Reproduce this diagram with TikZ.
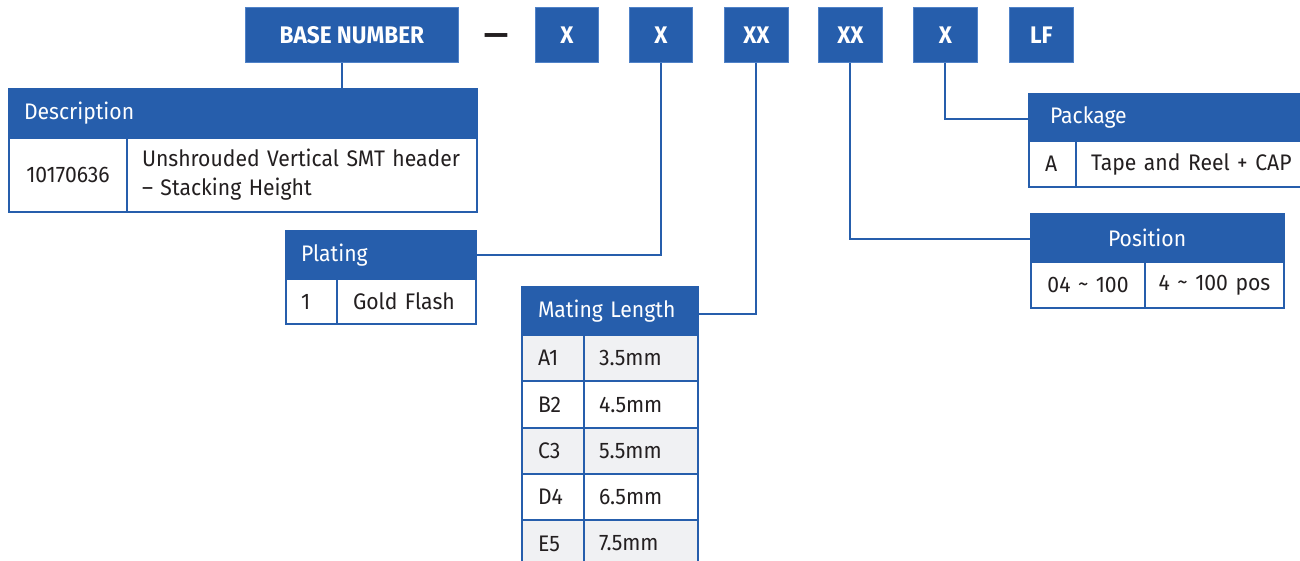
\documentclass[tikz,border=0pt]{standalone}
\usepackage{fontspec}
\setmainfont[FakeStretch=0.94]{Fira Sans}
\definecolor{mblue}{RGB}{38,94,172}
\definecolor{medge}{RGB}{80,130,200}
\definecolor{ink}{RGB}{35,31,32}
\definecolor{rowgray}{RGB}{240,241,243}
\begin{document}
\begin{tikzpicture}[x=1pt,y=-1pt,
  cellb/.style={draw=mblue, line width=2pt, anchor=north west, inner ysep=0pt,
    font=\fontsize{22.5}{29}\selectfont, text=ink, align=left, fill=white},
  hdr/.style={cellb, fill=mblue, text=white, font=\fontsize{22.5}{26}\selectfont},
  topbox/.style={fill=mblue, draw=medge, line width=0.8pt, text=white,
    font=\bfseries\fontsize{24}{27}\selectfont, minimum height=55pt, inner sep=0pt, anchor=north west},
  conn/.style={draw=mblue, line width=2pt}]
\useasboundingbox (0,0) rectangle (1300,560);

% top code boxes
\node[topbox, minimum width=213pt] (base) at (245,7) {BASE NUMBER};
\node[font=\bfseries\fontsize{32}{34}\selectfont, text=ink, inner sep=0pt] (dashsym) at (496,40) {—};
\node[topbox, minimum width=63pt] (x1) at (535,7) {X};
\node[topbox, minimum width=63pt] (x2) at (629,7) {X};
\node[topbox, minimum width=64pt] (xx1) at (724,7) {XX};
\node[topbox, minimum width=64pt] (xx2) at (818,7) {XX};
\node[topbox, minimum width=64pt] (x3) at (913,7) {X};
\node[topbox, minimum width=64pt] (lf) at (1009,7) {LF};

% Description
\node[hdr, minimum width=468pt, minimum height=49pt, inner xsep=15pt, text width=438pt] (desc) at (8,88) {Description};
\node[cellb, minimum width=118pt, minimum height=74pt, inner xsep=5pt, text width=108pt, align=center] (d1) at (8,137) {10170636};
\node[cellb, minimum width=350pt, minimum height=74pt, inner xsep=15pt, text width=320pt] (d2) at (126,137) {Unshrouded Vertical SMT header\\– Stacking Height};

% Plating
\node[hdr, minimum width=190pt, minimum height=48pt, inner xsep=15pt, text width=160pt] (plat) at (285,230) {Plating};
\node[cellb, minimum width=51pt, minimum height=45pt, inner xsep=15pt, text width=21pt] (p1) at (285,278) {1};
\node[cellb, minimum width=139pt, minimum height=45pt, inner xsep=16pt, text width=107pt] (p2) at (336,278) {Gold Flash};

% Mating Length
\node[hdr, minimum width=176pt, minimum height=48pt, inner xsep=16pt, text width=144pt] (mate) at (521,286) {Mating Length};
\foreach \y/\h/\c/\v/\f [count=\i] in {334/46/A1/3.5mm/rowgray, 380/47/B2/4.5mm/white, 427/46/C3/5.5mm/rowgray, 473/46/D4/6.5mm/white, 519/47/E5/7.5mm/rowgray}{
  \node[cellb, fill=\f, minimum width=62pt, minimum height=\h pt, inner xsep=16pt, text width=30pt] (m\i a) at (521,\y) {\c};
  \node[cellb, fill=\f, minimum width=114pt, minimum height=\h pt, inner xsep=15pt, text width=84pt] (m\i b) at (583,\y) {\v};
}

% Package
\node[hdr, minimum width=282pt, minimum height=47pt, inner xsep=21pt, text width=240pt] (pkg) at (1028,93) {Package};
\node[cellb, minimum width=47pt, minimum height=46pt, inner xsep=16pt, text width=15pt] (k1) at (1028,140) {A};
\node[cellb, minimum width=235pt, minimum height=46pt, inner xsep=15pt, text width=205pt] (k2) at (1075,140) {Tape and Reel + CAP};

% Position
\node[hdr, minimum width=253pt, minimum height=48pt, inner xsep=77pt, text width=99pt] (pos) at (1030,213) {Position};
\node[cellb, minimum width=114pt, minimum height=46pt, inner xsep=5pt, text width=104pt, align=center] (s1) at (1030,261) {04 \raisebox{0.1ex}{\char"007E} 100};
\node[cellb, minimum width=139pt, minimum height=46pt, inner xsep=5pt, text width=129pt, align=center] (s2) at (1144,261) {4 \raisebox{0.1ex}{\char"007E} 100 pos};

% connectors
\draw[conn] ([xshift=-9.5pt]base.south) -- ([xshift=-9.5pt]base.south |- desc.north);
\draw[conn] (x2.south) |- (plat.east);
\draw[conn] (xx1.south) |- ([yshift=-3pt]mate.east);
\draw[conn] (xx2.south) |- ([yshift=-1pt]pos.west);
\draw[conn] (x3.south) |- ([yshift=-1.5pt]pkg.west);
\end{tikzpicture}
\end{document}
